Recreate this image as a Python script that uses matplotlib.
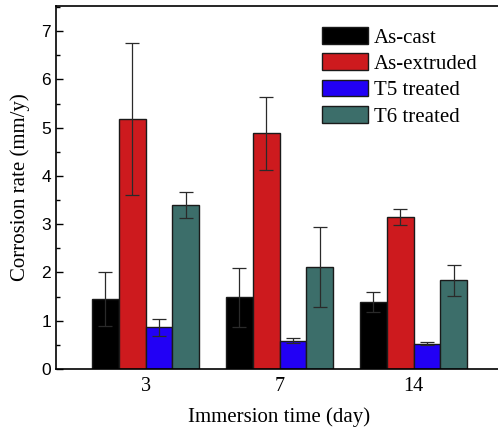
import numpy as np
import matplotlib
matplotlib.use("Agg")
import matplotlib.pyplot as plt
from matplotlib.ticker import MultipleLocator

# ---- data ----
days = ["3", "7", "14"]
series = ["As-cast", "As-extruded", "T5 treated", "T6 treated"]
as_cast     = [1.45, 1.49, 1.39]
as_cast_err = [0.56, 0.61, 0.20]
extruded     = [5.18, 4.88, 3.15]
extruded_err = [1.58, 0.75, 0.16]
t5     = [0.86, 0.59, 0.52]
t5_err = [0.18, 0.06, 0.03]
t6     = [3.39, 2.11, 1.84]
t6_err = [0.27, 0.83, 0.32]

colors = ["#000000", "#CD1A1E", "#2200F5", "#3C6E6A"]

fig = plt.figure(figsize=(4.98, 4.30), dpi=100)
ax = fig.add_axes([56/498, 61/430, 446/498, 363/430])

x = np.arange(1, len(days) + 1)
w = 0.2
vals = [as_cast, extruded, t5, t6]
errs = [as_cast_err, extruded_err, t5_err, t6_err]
for i, (v, e, c, lab) in enumerate(zip(vals, errs, colors, series)):
    ax.bar(x + (i - 1.5) * w, v, width=w, color=c, edgecolor="#1a1a1a",
           linewidth=1.0, label=lab, zorder=2)
    ax.errorbar(x + (i - 1.5) * w, v, yerr=e, fmt="none", ecolor="#2a2a2a",
                elinewidth=0.9, capsize=5, capthick=0.9, zorder=3)

ax.set_xlim(0.331, 3.66)
ax.set_ylim(0, 7.52)
ax.set_xticks(x)
ax.set_xticklabels(days, family="Liberation Serif", fontsize=14.5)
ax.tick_params(axis="x", length=0, pad=6)
ax.yaxis.set_major_locator(MultipleLocator(1))
ax.yaxis.set_minor_locator(MultipleLocator(0.5))
ax.tick_params(axis="y", which="major", direction="in", length=5, width=1,
               labelsize=12.5)
ax.tick_params(axis="y", which="minor", direction="in", length=3, width=1)
for lbl in ax.get_yticklabels():
    lbl.set_family("Liberation Sans")
for s in ax.spines.values():
    s.set_linewidth(1.2)

ax.set_ylabel("Corrosion rate (mm/y)", family="Liberation Serif", fontsize=15,
              labelpad=8)
ax.set_xlabel("Immersion time (day)", family="Liberation Serif", fontsize=15,
              labelpad=8)

ax.legend(loc="upper left", bbox_to_anchor=(322/498, 1 - 27/430),
          bbox_transform=fig.transFigure, frameon=False,
          prop={"family": "Liberation Serif", "size": 15},
          handlelength=2.2, handleheight=0.85, handletextpad=0.3,
          labelspacing=0.28, borderaxespad=0, borderpad=0)

fig.savefig("out.png", dpi=100)
